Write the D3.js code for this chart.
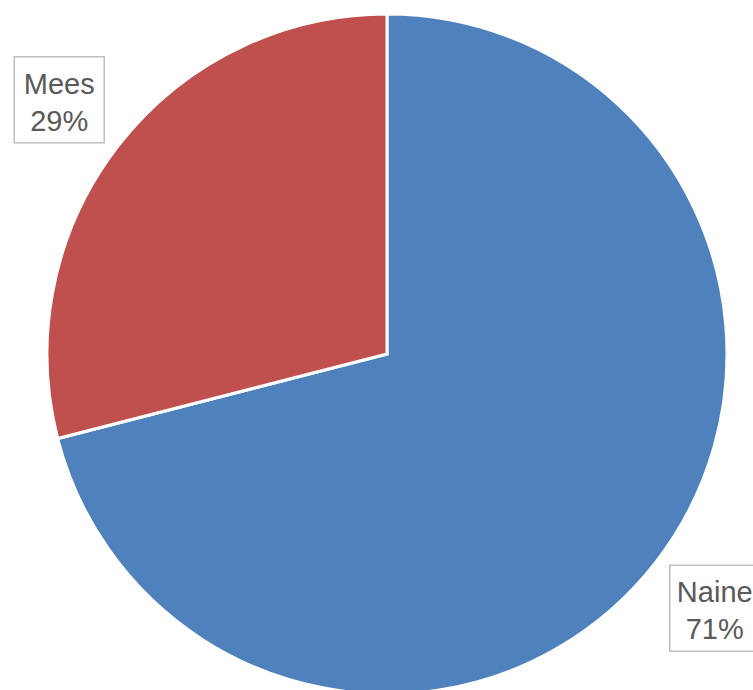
<!DOCTYPE html>
<html>
<head>
<meta charset="utf-8">
<script src="https://cdn.jsdelivr.net/npm/d3@7"></script>
<style>
  body { margin: 0; background: #fff; }
</style>
</head>
<body>
<div id="chart"></div>
<script>
var categories = ["Naine", "Mees"];
var values = [71, 29];
var colors = ["#4F81BD", "#C0504D"];

var w = 753;
var h = 690;
var cx = 387;
var cy = 354;
var r = 340;

var total = d3.sum(values);
var data_set = categories.map(function(c, i) {
    return { name: c, value: values[i], color: colors[i] };
});

var svg = d3.select("#chart")
            .append("svg")
            .attr("width", w)
            .attr("height", h);

var g = svg.append("g")
           .attr("transform", "translate(" + cx + "," + cy + ")");

var pie = d3.pie()
            .sort(null)
            .value(function(d) { return d.value; });

var arc = d3.arc().innerRadius(0).outerRadius(r);
var labelArc = d3.arc().innerRadius(r * 1.22).outerRadius(r * 1.22);

var arcs = pie(data_set);

g.selectAll("path")
 .data(arcs)
 .enter()
 .append("path")
 .attr("d", arc)
 .attr("fill", function(d) { return d.data.color; })
 .attr("stroke", "#fff")
 .attr("stroke-width", 3)
 .attr("stroke-linejoin", "miter");

// data labels in boxes
var labels = g.selectAll("g.lbl")
              .data(arcs)
              .enter()
              .append("g")
              .attr("class", "lbl")
              .attr("transform", function(d) {
                  var c = labelArc.centroid(d);
                  return "translate(" + c[0] + "," + c[1] + ")";
              });

var boxW = 90, boxH = 86;

labels.append("rect")
      .attr("x", -boxW / 2)
      .attr("y", -boxH / 2)
      .attr("width", boxW)
      .attr("height", boxH)
      .attr("fill", "#fff")
      .attr("stroke", "#BFBFBF")
      .attr("stroke-width", 1.5);

labels.append("text")
      .attr("text-anchor", "middle")
      .attr("y", -6)
      .attr("font-family", "'Liberation Sans', Arial, sans-serif")
      .attr("font-size", "29px")
      .attr("fill", "#595959")
      .text(function(d) { return d.data.name; });

labels.append("text")
      .attr("text-anchor", "middle")
      .attr("y", 31)
      .attr("font-family", "'Liberation Sans', Arial, sans-serif")
      .attr("font-size", "29px")
      .attr("fill", "#595959")
      .text(function(d) { return Math.round(d.data.value / total * 100) + "%"; });
</script>
</body>
</html>
